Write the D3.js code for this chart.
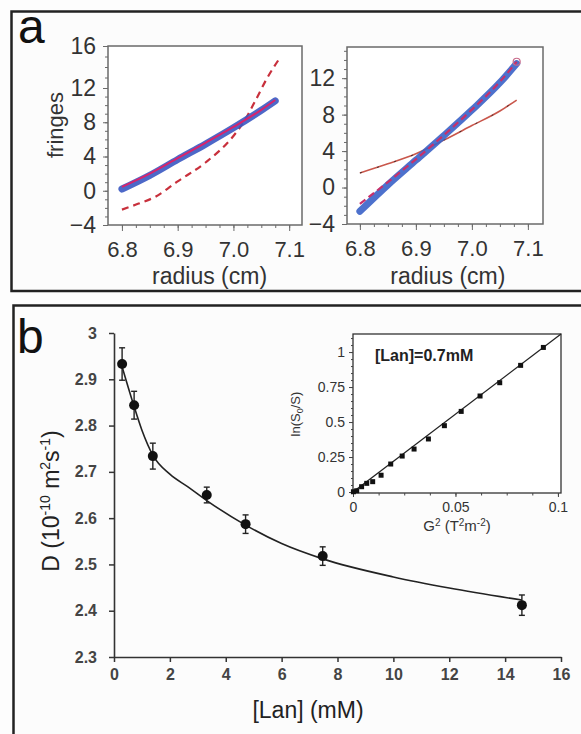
<!DOCTYPE html>
<html>
<head>
<meta charset="utf-8">
<script src="https://cdn.jsdelivr.net/npm/d3@7"></script>
<style>
body { margin: 0; background: #fff; }
text { font-family: "Liberation Sans", Arial, sans-serif; }
</style>
</head>
<body>
<div id="chart-area"></div>
<script>
// panel a, left: measured fringes, fit, and the rejected model (dashed)
var aLeftData = [[6.80, 0.2], [6.85, 1.8], [6.90, 3.65], [6.95, 5.45], [7.00, 7.35], [7.05, 9.4], [7.075, 10.5]];
var aLeftFit = [[6.80, 0.45], [6.85, 2.0], [6.90, 3.8], [6.95, 5.6], [7.00, 7.45], [7.05, 9.45], [7.075, 10.6]];
var aLeftModel = [[6.80, -2.2], [6.83, -1.5], [6.86, -0.7], [6.90, 1.1], [6.95, 3.3], [7.00, 6.4], [7.02, 8.2], [7.04, 10.6], [7.06, 12.9], [7.085, 15.0]];

// panel a, right
var aRightData = [[6.80, -2.6], [6.85, 0.3], [6.90, 3.0], [6.95, 5.7], [7.00, 8.5], [7.05, 11.5], [7.08, 13.6]];
var aRightFit = [[6.80, -1.8], [6.85, 0.6], [6.90, 3.1], [6.95, 5.75], [7.00, 8.55], [7.05, 11.6], [7.08, 13.8]];
var aRightModel = [[6.80, 1.6], [6.85, 2.6], [6.90, 3.7], [6.95, 5.2], [7.00, 6.8], [7.05, 8.4], [7.08, 9.6]];

var radiusTicks = [6.8, 6.9, 7.0, 7.1];
var leftFringeTicks = [-4, 0, 4, 8, 12, 16];
var rightFringeTicks = [-4, 0, 4, 8, 12];

// panel b: diffusion coefficient vs lanthanide concentration
var lanConc = [0.29, 0.72, 1.39, 3.32, 4.71, 7.47, 14.6];
var diffCoef = [2.933, 2.844, 2.734, 2.650, 2.587, 2.518, 2.412];
var diffErr = [0.035, 0.03, 0.028, 0.017, 0.02, 0.02, 0.022];
var fitLan = [0.3, 0.7, 1.0, 1.4, 2, 2.66, 3.32, 4.71, 6, 7.47, 10, 12, 14.6];
var fitD = [2.925, 2.845, 2.79, 2.735, 2.695, 2.667, 2.638, 2.585, 2.545, 2.512, 2.473, 2.449, 2.423];
var lanTicks = [0, 2, 4, 6, 8, 10, 12, 14, 16];
var dTicks = [2.3, 2.4, 2.5, 2.6, 2.7, 2.8, 2.9, 3];

// inset: ln(S0/S) vs G^2
var gradSq = [0.0002, 0.0018, 0.0042, 0.0067, 0.0096, 0.0137, 0.0184, 0.024, 0.0298, 0.0368, 0.0446, 0.0528, 0.062, 0.0716, 0.0818, 0.0929];
var lnRatio = [0.002, 0.009, 0.038, 0.062, 0.074, 0.12, 0.20, 0.257, 0.307, 0.379, 0.474, 0.576, 0.686, 0.781, 0.905, 1.033];
var insetFit = [[0, 0], [0.1015, 1.129]];
var gradTicks = [0, 0.05, 0.1];
var lnTicks = [0, 0.25, 0.5, 0.75, 1];

var svg = d3.select("#chart-area")
    .append("svg")
        .attr("width", 581)
        .attr("height", 734);

svg.append("rect").attr("width", 581).attr("height", 734).attr("fill", "#fdfdfd");

// panel frames
svg.append("rect")
    .attr("x", 11.5).attr("y", 11.5).attr("width", 580).attr("height", 279.5)
    .attr("fill", "#fcfcfc").attr("stroke", "#222").attr("stroke-width", 2.5);
svg.append("rect")
    .attr("x", 13.5).attr("y", 305.5).attr("width", 580).attr("height", 440)
    .attr("fill", "#fcfcfc").attr("stroke", "#222").attr("stroke-width", 2.5);

svg.append("text").attr("x", 18).attr("y", 43).attr("font-size", 48).attr("fill", "#111").text("a");
svg.append("text").attr("x", 17).attr("y", 353).attr("font-size", 48).attr("fill", "#111").text("b");

// ---------- panel a ----------
function fringePlot(x, y, yTicks, yMinor) {
    var x0 = x.range()[0], x1 = x.range()[1];
    var y0 = y.range()[0], y1 = y.range()[y.range().length - 1];

    svg.append("rect")
        .attr("x", x0).attr("y", y1).attr("width", x1 - x0).attr("height", y0 - y1)
        .attr("fill", "#fff").attr("stroke", "#6a6a6a").attr("stroke-width", 1.5);

    var xMinor = d3.range(272, 285).map(function(i) { return i / 40; });

    svg.append("g")
        .attr("transform", "translate(0," + y0 + ")")
        .attr("color", "#6a6a6a")
        .call(d3.axisBottom(x).tickValues(xMinor).tickSize(3).tickFormat(""))
        .call(function(g) { g.select(".domain").remove(); });

    var xAxis = svg.append("g")
        .attr("transform", "translate(0," + y0 + ")")
        .attr("color", "#6a6a6a")
        .call(d3.axisBottom(x).tickValues(radiusTicks).tickSize(6).tickPadding(10).tickFormat(d3.format(".1f")))
        .attr("font-size", 22);
    xAxis.select(".domain").remove();
    xAxis.selectAll("text").attr("fill", "#333");

    svg.append("g")
        .attr("transform", "translate(" + x0 + ",0)")
        .attr("color", "#6a6a6a")
        .call(d3.axisLeft(y).tickValues(yMinor).tickSize(3).tickFormat(""))
        .call(function(g) { g.select(".domain").remove(); });

    var yAxis = svg.append("g")
        .attr("transform", "translate(" + x0 + ",0)")
        .attr("color", "#6a6a6a")
        .call(d3.axisLeft(y).tickValues(yTicks).tickSize(5).tickPadding(7))
        .attr("font-size", 23);
    yAxis.select(".domain").remove();
    yAxis.selectAll("text").attr("fill", "#333");

    svg.append("text")
        .attr("x", (x(6.8) + x(7.1)) / 2 + 4).attr("y", 284)
        .attr("text-anchor", "middle").attr("font-size", 23).attr("fill", "#333")
        .text("radius (cm)");
}

var aLeftX = d3.scaleLinear().domain([6.775, 7.123]).range([108, 302]);
var aLeftY = d3.scaleLinear().domain([-4, 12, 16]).range([225, 88, 46]);
var aRightX = d3.scaleLinear().domain([6.777, 7.127]).range([347, 543]);
var aRightY = d3.scaleLinear().domain([-4, 15.42]).range([224, 47]);

fringePlot(aLeftX, aLeftY, leftFringeTicks, d3.range(-4, 17));
fringePlot(aRightX, aRightY, rightFringeTicks, d3.range(-4, 16));

svg.append("text")
    .attr("transform", "translate(62.5,125) rotate(-90)")
    .attr("text-anchor", "middle").attr("font-size", 22).attr("fill", "#333")
    .text("fringes");

function fringeLine(x, y) {
    return d3.line()
        .x(function(d) { return x(d[0]); })
        .y(function(d) { return y(d[1]); })
        .curve(d3.curveMonotoneX);
}

var leftLine = fringeLine(aLeftX, aLeftY);
var rightLine = fringeLine(aRightX, aRightY);

// left plot
svg.append("path").attr("d", leftLine(aLeftModel))
    .attr("fill", "none").attr("stroke", "#c8303c").attr("stroke-width", 2.2)
    .attr("stroke-dasharray", "7,5");
svg.append("path").attr("d", leftLine(aLeftData))
    .attr("fill", "none").attr("stroke", "#3a58c2").attr("stroke-width", 7)
    .attr("stroke-linecap", "round").attr("opacity", 0.9);
svg.append("path").attr("d", leftLine(aLeftFit))
    .attr("fill", "none").attr("stroke", "#d8246c").attr("stroke-width", 2);

// right plot
svg.append("path").attr("d", rightLine(aRightModel))
    .attr("fill", "none").attr("stroke", "#c9574c").attr("stroke-width", 1.6);
svg.append("path").attr("d", rightLine(aRightModel))
    .attr("fill", "none").attr("stroke", "#222").attr("stroke-width", 0.8)
    .attr("stroke-dasharray", "2,16");
svg.append("path").attr("d", rightLine(aRightData))
    .attr("fill", "none").attr("stroke", "#3a62c8").attr("stroke-width", 7)
    .attr("stroke-linecap", "round").attr("opacity", 0.9);
svg.append("path").attr("d", rightLine(aRightFit))
    .attr("fill", "none").attr("stroke", "#c8306a").attr("stroke-width", 2.2)
    .attr("stroke-dasharray", "7,4");
svg.append("circle")
    .attr("cx", aRightX(aRightFit[aRightFit.length - 1][0]))
    .attr("cy", aRightY(aRightFit[aRightFit.length - 1][1]))
    .attr("r", 3.5).attr("fill", "none").attr("stroke", "#c86a8a").attr("stroke-width", 1.2);

// ---------- panel b ----------
var bX = d3.scaleLinear().domain([0, 16]).range([114, 561]);
var bY = d3.scaleLinear().domain([2.3, 3]).range([657, 333]);

var bxAxis = svg.append("g")
    .attr("transform", "translate(0,657)")
    .attr("color", "#333")
    .call(d3.axisBottom(bX).tickValues(lanTicks).tickSize(5).tickPadding(7).tickSizeOuter(0))
    .attr("font-size", 16).attr("font-weight", "bold");
bxAxis.select(".domain").attr("stroke-width", 1.6);
bxAxis.selectAll("line").attr("stroke-width", 1.5);
bxAxis.selectAll("text").attr("fill", "#444");

var byAxis = svg.append("g")
    .attr("transform", "translate(114,0)")
    .attr("color", "#333")
    .call(d3.axisLeft(bY).tickValues(dTicks).tickSize(5).tickPadding(12).tickSizeOuter(0).tickFormat(d3.format(".1~f")))
    .attr("font-size", 16).attr("font-weight", "bold");
byAxis.select(".domain").attr("stroke-width", 1.6);
byAxis.selectAll("line").attr("stroke-width", 1.5);
byAxis.selectAll("text").attr("fill", "#444");

var yLab = svg.append("text")
    .attr("transform", "translate(58.5,501) rotate(-90)")
    .attr("text-anchor", "middle").attr("font-size", 23).attr("fill", "#222");
yLab.append("tspan").text("D (10");
yLab.append("tspan").attr("dy", -9).attr("font-size", 14).text("-10");
yLab.append("tspan").attr("dy", 9).text(" m");
yLab.append("tspan").attr("dy", -9).attr("font-size", 14).text("2");
yLab.append("tspan").attr("dy", 9).text("s");
yLab.append("tspan").attr("dy", -9).attr("font-size", 14).text("-1");
yLab.append("tspan").attr("dy", 9).text(")");

svg.append("text")
    .attr("x", 308).attr("y", 718)
    .attr("text-anchor", "middle").attr("font-size", 23).attr("fill", "#222")
    .text("[Lan] (mM)");

var fitCurve = d3.line()
    .x(function(d, i) { return bX(fitLan[i]); })
    .y(function(d) { return bY(d); })
    .curve(d3.curveMonotoneX);

svg.append("path").attr("d", fitCurve(fitD))
    .attr("fill", "none").attr("stroke", "#222").attr("stroke-width", 1.6);

var pts = svg.append("g").selectAll("g").data(lanConc).enter().append("g");
pts.append("line")
    .attr("x1", function(d) { return bX(d); }).attr("x2", function(d) { return bX(d); })
    .attr("y1", function(d, i) { return bY(diffCoef[i] - diffErr[i]); })
    .attr("y2", function(d, i) { return bY(diffCoef[i] + diffErr[i]); })
    .attr("stroke", "#222").attr("stroke-width", 1.4);
[-1, 1].forEach(function(s) {
    pts.append("line")
        .attr("x1", function(d) { return bX(d) - 3; }).attr("x2", function(d) { return bX(d) + 3; })
        .attr("y1", function(d, i) { return bY(diffCoef[i] + s * diffErr[i]); })
        .attr("y2", function(d, i) { return bY(diffCoef[i] + s * diffErr[i]); })
        .attr("stroke", "#222").attr("stroke-width", 1.4);
});
pts.append("circle")
    .attr("cx", function(d) { return bX(d); })
    .attr("cy", function(d, i) { return bY(diffCoef[i]); })
    .attr("r", 5).attr("fill", "#111");

// ---------- inset ----------
var inX = d3.scaleLinear().domain([0, 0.1015]).range([353, 561]);
var inY = d3.scaleLinear().domain([-0.007, 1.129]).range([493, 334]);

svg.append("rect")
    .attr("x", 353).attr("y", 334).attr("width", 208).attr("height", 159)
    .attr("fill", "#fff").attr("stroke", "#333").attr("stroke-width", 1.3);

svg.append("g")
    .attr("transform", "translate(0,493)").attr("color", "#444")
    .call(d3.axisBottom(inX).tickValues(d3.range(0, 9).map(function(i) { return i * 0.0125; })).tickSize(2.5).tickFormat(""))
    .call(function(g) { g.select(".domain").remove(); });
var inXAxis = svg.append("g")
    .attr("transform", "translate(0,493)").attr("color", "#444")
    .call(d3.axisBottom(inX).tickValues(gradTicks).tickSize(4).tickPadding(5).tickFormat(String))
    .attr("font-size", 14);
inXAxis.select(".domain").remove();
inXAxis.selectAll("text").attr("fill", "#333");

svg.append("g")
    .attr("transform", "translate(353,0)").attr("color", "#444")
    .call(d3.axisLeft(inY).tickValues(d3.range(0, 23).map(function(i) { return i * 0.05; })).tickSize(2).tickFormat(""))
    .call(function(g) { g.select(".domain").remove(); });
var inYAxis = svg.append("g")
    .attr("transform", "translate(353,0)").attr("color", "#444")
    .call(d3.axisLeft(inY).tickValues(lnTicks).tickSize(4).tickPadding(4).tickFormat(String))
    .attr("font-size", 14);
inYAxis.select(".domain").remove();
inYAxis.selectAll("text").attr("fill", "#333");

var inLine = d3.line()
    .x(function(d) { return inX(d[0]); })
    .y(function(d) { return inY(d[1]); });
svg.append("path").attr("d", inLine(insetFit))
    .attr("fill", "none").attr("stroke", "#222").attr("stroke-width", 1.3);

svg.append("g").selectAll("rect").data(gradSq).enter().append("rect")
    .attr("x", function(d) { return inX(d) - 2.5; })
    .attr("y", function(d, i) { return inY(lnRatio[i]) - 2.5; })
    .attr("width", 5).attr("height", 5)
    .attr("fill", "#111");

svg.append("text")
    .attr("x", 375).attr("y", 361)
    .attr("font-size", 16).attr("font-weight", "bold").attr("fill", "#222")
    .text("[Lan]=0.7mM");

var gLab = svg.append("text")
    .attr("x", 457).attr("y", 531)
    .attr("text-anchor", "middle").attr("font-size", 15).attr("fill", "#333");
gLab.append("tspan").text("G");
gLab.append("tspan").attr("dy", -5).attr("font-size", 10).text("2");
gLab.append("tspan").attr("dy", 5).text(" (T");
gLab.append("tspan").attr("dy", -5).attr("font-size", 10).text("2");
gLab.append("tspan").attr("dy", 5).text("m");
gLab.append("tspan").attr("dy", -5).attr("font-size", 10).text("-2");
gLab.append("tspan").attr("dy", 5).text(")");

var lnLab = svg.append("text")
    .attr("transform", "translate(300,414) rotate(-90)")
    .attr("text-anchor", "middle").attr("font-size", 13).attr("fill", "#333");
lnLab.append("tspan").text("ln(S");
lnLab.append("tspan").attr("dy", 3).attr("font-size", 9).text("0");
lnLab.append("tspan").attr("dy", -3).text("/S)");
</script>
</body>
</html>
